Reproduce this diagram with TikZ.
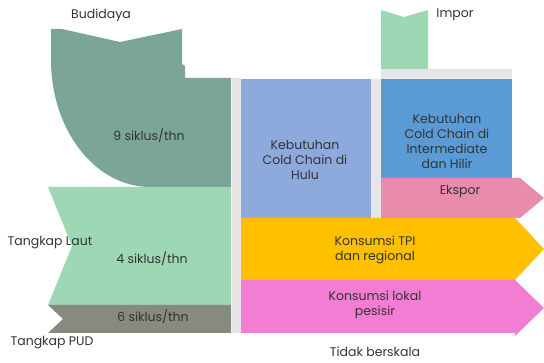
\documentclass[tikz,border=0pt]{standalone}
\usepackage{fontspec}
\setmainfont{Poppins}
\begin{document}
\begin{tikzpicture}[x=1pt,y=-1pt,
  lbl/.style={font=\fontsize{12.5}{15}\selectfont, text=black!80, align=center, inner sep=0pt},
  every path/.style={line width=0pt}]
\definecolor{budi}{HTML}{7BA597}
\definecolor{laut}{HTML}{9ED7B3}
\definecolor{pud}{HTML}{878A7F}
\definecolor{sep}{HTML}{E6E6E6}
\definecolor{hulu}{HTML}{8EA9DB}
\definecolor{hilir}{HTML}{5B9BD5}
\definecolor{eks}{HTML}{E98BAB}
\definecolor{tpi}{HTML}{FFC000}
\definecolor{lok}{HTML}{F17ED3}
\useasboundingbox (0,0) rectangle (544,363);
% Budidaya
\fill[budi] (51,29) -- (62,29) -- (120,42) -- (182,29) -- (182,64) -- (185,66) -- (185,78) -- (231,78) -- (231,187) -- (150,187) arc[start angle=90, end angle=180, x radius=99, y radius=127] -- cycle;
% Tangkap Laut
\fill[laut] (48,187) -- (231,187) -- (231,305) -- (48,305) -- (72,246) -- cycle;
% Tangkap PUD
\fill[pud] (48,305) -- (231,305) -- (231,333) -- (48,333) -- (63,319) -- cycle;
% separators
\fill[sep] (232,78) rectangle (241,333);
\fill[sep] (371,79) rectangle (381,218);
\fill[sep] (381,69) rectangle (512,79);
% Impor
\fill[laut] (381,10) -- (404,17) -- (428,10) -- (428,69) -- (381,69) -- cycle;
% boxes
\fill[hulu] (241,79) rectangle (371,218);
\fill[hilir] (381,79) rectangle (512,178);
% arrows
\fill[eks] (381,178) -- (520,178) -- (544,198) -- (520,218) -- (381,218) -- cycle;
\fill[tpi] (241,218) -- (515,218) -- (544,249) -- (515,280) -- (241,280) -- cycle;
\fill[lok] (241,280) -- (515,280) -- (544,308) -- (515,336) -- (515,333) -- (241,333) -- cycle;
% texts
\node[lbl] (tbudi) at (101,15) {Budidaya};
\node[lbl] (timpor) at (455,15) {Impor};
\node[lbl] (t9) at (149,136) {9 siklus/thn};
\node[lbl] (t4) at (152,259) {4 siklus/thn};
\node[lbl] (t6) at (153,317) {6 siklus/thn};
\node[lbl] (tlaut) at (50,243) {Tangkap Laut};
\node[lbl] (tpud) at (52,343) {Tangkap PUD};
\node[lbl] (thulu) at (305,160) {Kebutuhan\\Cold Chain di\\Hulu};
\node[lbl] (thilir) at (447,141) {Kebutuhan\\Cold Chain di\\Intermediate\\dan Hilir};
\node[lbl] (teks) at (460,192) {Ekspor};
\node[lbl] (ttpi) at (375,250) {Konsumsi TPI\\dan regional};
\node[lbl] (tlok) at (375,305) {Konsumsi lokal\\pesisir};
\node[lbl] (ttidak) at (375,352) {Tidak berskala};
\end{tikzpicture}
\end{document}
